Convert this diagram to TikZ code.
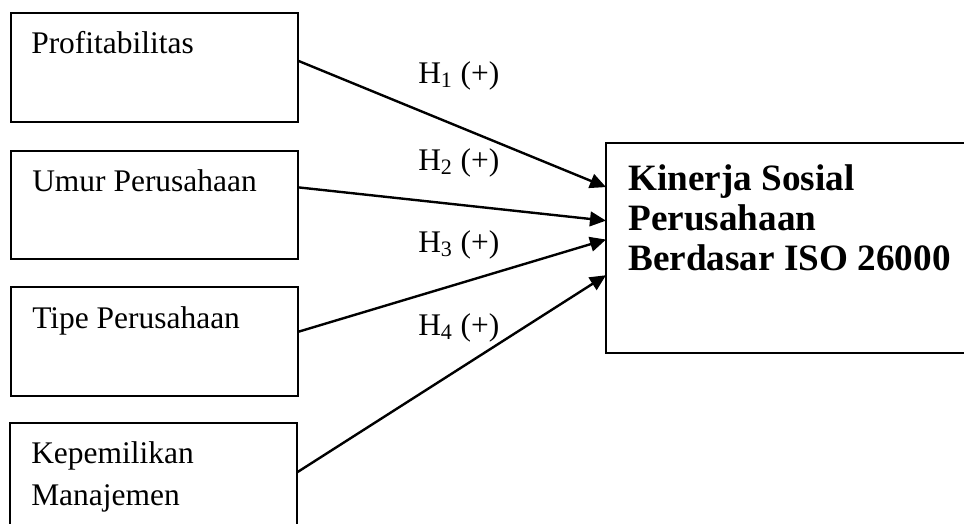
\documentclass[tikz,border=0pt]{standalone}
\usepackage{fontspec}
\setmainfont{Liberation Serif}
\usetikzlibrary{arrows.meta,calc}

\tikzset{
  varbox/.style={draw, line width=1.5pt, inner sep=0pt, anchor=north west},
  openbox/.style={inner sep=0pt, anchor=north west},
  edge/.style={line width=1.5pt},
  lbl/.style={anchor=base west, inner sep=0pt, font=\fontsize{23.6}{31.5}\selectfont},
  blbl/.style={anchor=base west, inner sep=0pt, font=\fontsize{27.9}{30}\selectfont\bfseries},
  hyp/.style={anchor=base west, inner sep=0pt, font=\fontsize{23.6}{31.5}\selectfont},
  link/.style={line width=1.8pt, -{Triangle[length=12pt,width=11pt]}}
}

\begin{document}
\begin{tikzpicture}[x=0.75pt,y=-0.75pt]
\useasboundingbox (0,0) rectangle (966,526);

% independent variables
\node[varbox, minimum width=215pt, minimum height=82pt] (prof) at (10,12) {};
\node[varbox, minimum width=215pt, minimum height=81pt] (umur) at (10,150) {};
\node[varbox, minimum width=215pt, minimum height=82pt] (tipe) at (10,286) {};
% last box: open at the bottom
\node[openbox, minimum width=215pt, minimum height=75pt] (kep) at (10,423) {};
\draw[edge] (kep.south west) -- (kep.north west) -- (kep.north east) -- (kep.south east);

% dependent variable: open at the right
\node[openbox, minimum width=267.75pt, minimum height=157pt] (kin) at (606,143) {};
\draw[edge] (kin.north east) -- (kin.north west) -- (kin.south west) -- (kin.south east);

% box texts
\node[lbl] (tprof) at (31,53)  {Profitabilitas};
\node[lbl] (tumur) at (32,191) {Umur Perusahaan};
\node[lbl] (ttipe) at (32,328) {Tipe Perusahaan};
\node[lbl] (tkep1) at (31,463) {Kepemilikan};
\node[lbl] (tkep2) at (31,505) {Manajemen};

\node[blbl] (tkin1) at (628,190) {Kinerja Sosial};
\node[blbl] (tkin2) at (628,230) {Perusahaan};
\node[blbl] (tkin3) at (628,270) {Berdasar ISO 26000};

% hypothesis paths
\draw[link] ($(prof.north east)!0.44!(prof.south east)$) -- ($(kin.north west)!0.21!(kin.south west)$);
\draw[link] ($(umur.north east)!0.34!(umur.south east)$) -- ($(kin.north west)!0.37!(kin.south west)$);
\draw[link] ($(tipe.north east)!0.41!(tipe.south east)$) -- ($(kin.north west)!0.46!(kin.south west)$);
\draw[link] ($(kep.north east)!0.49!(kep.south east)$)   -- ($(kin.north west)!0.63!(kin.south west)$);

% hypothesis labels
\node[hyp] (h1) at (418,83)  {H\textsubscript{1} (+)};
\node[hyp] (h2) at (418,170) {H\textsubscript{2} (+)};
\node[hyp] (h3) at (418,252) {H\textsubscript{3} (+)};
\node[hyp] (h4) at (418,335) {H\textsubscript{4} (+)};
\end{tikzpicture}
\end{document}
